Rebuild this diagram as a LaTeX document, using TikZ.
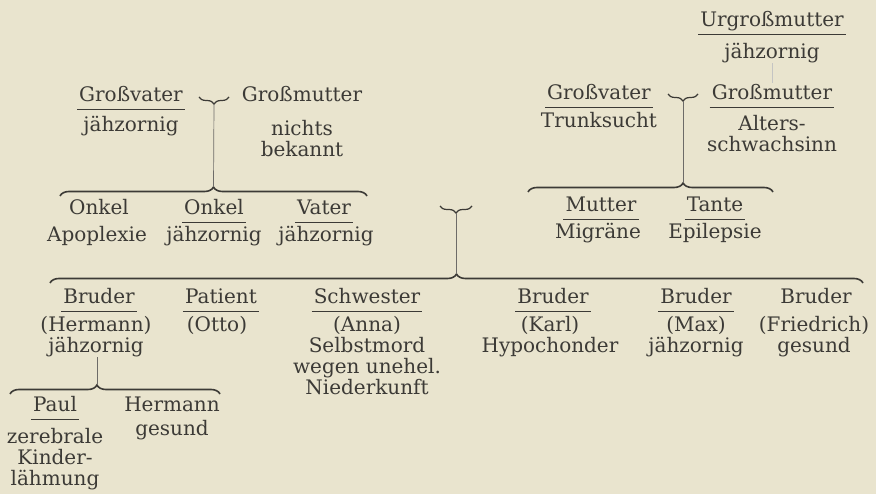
\documentclass[tikz,border=0pt]{standalone}
\usepackage{fontspec}
\setmainfont{DejaVu Serif}
\usetikzlibrary{positioning,decorations.pathreplacing}
\definecolor{paper}{HTML}{E9E4CE}
\definecolor{ink}{HTML}{3C3A36}
\tikzset{
  who/.style={anchor=base, inner sep=0pt, text height=15pt, text depth=5pt, text=ink},
  what/.style={inner sep=0pt, align=center, text=ink},
  rule/.style={draw=ink, line width=0.7pt},
  stem/.style={draw=ink!75, line width=0.7pt},
  bow/.style={draw=ink, line width=1.6pt, decorate,
              decoration={brace, amplitude=9pt}},
  wed/.style={draw=ink, line width=1.2pt, decorate,
              decoration={brace, mirror, amplitude=7pt}}}

\begin{document}
\begin{tikzpicture}[x=1pt, y=-1pt, font=\fontsize{20}{21}\selectfont]
  \fill[paper] (0,0) rectangle (876,494);

  % great-grandmother
  \node[who] (ugm) at (772,27) {Urgroßmutter};
  \node[what, below=11pt of ugm] (ugmD) {jähzornig};

  % father's parents
  \node[who] (gvL) at (131,102) {Großvater};
  \node[what, below=9pt of gvL] (gvLD) {jähzornig};
  \node[who] (gmL) at (302,102) {Großmutter};
  \node[what, below=13pt of gmL] (gmLD) {nichts\\bekannt};

  % mother's parents
  \node[who] (gvR) at (599,100) {Großvater};
  \node[what, below=7pt of gvR] (gvRD) {Trunksucht};
  \node[who] (gmR) at (772,100) {Großmutter};
  \node[what, below=10pt of gmR] (gmRD) {Alters-\\schwachsinn};

  % parents' generation
  \node[who] (onkelA) at (99,215) {Onkel};
  \node[what, below=6pt of onkelA, xshift=-2pt] (onkelAD) {Apoplexie};
  \node[who] (onkelB) at (214,215) {Onkel};
  \node[what, below=6pt of onkelB] (onkelBD) {jähzornig};
  \node[who] (vater) at (324,215) {Vater};
  \node[what, below=6pt of vater, xshift=2pt] (vaterD) {jähzornig};
  \node[who] (mutter) at (601,212) {Mutter};
  \node[what, below=6pt of mutter, xshift=-3pt] (mutterD) {Migräne};
  \node[who] (tante) at (715,212) {Tante};
  \node[what, below=6pt of tante] (tanteD) {Epilepsie};

  % children
  \node[who] (bruderH) at (99,304) {Bruder};
  \node[what, below=7pt of bruderH, xshift=-3pt] (bruderHD) {(Hermann)\\jähzornig};
  \node[who] (patient) at (221,304) {Patient};
  \node[what, below=7pt of patient, xshift=-4pt] (patientD) {(Otto)};
  \node[who] (schwester) at (367,304) {Schwester};
  \node[what, below=7pt of schwester] (schwesterD) {(Anna)\\Selbstmord\\wegen unehel.\\Niederkunft};
  \node[who] (bruderK) at (553,304) {Bruder};
  \node[what, below=7pt of bruderK, xshift=-3pt] (bruderKD) {(Karl)\\Hypochonder};
  \node[who] (bruderM) at (696,304) {Bruder};
  \node[what, below=7pt of bruderM] (bruderMD) {(Max)\\jähzornig};
  \node[who] (bruderF) at (816,304) {Bruder};
  \node[what, below=7pt of bruderF, xshift=-2pt] (bruderFD) {(Friedrich)\\gesund};

  % grandchildren
  \node[who] (paul) at (55,412) {Paul};
  \node[what, below=11pt of paul] (paulD) {zerebrale\\Kinder-\\lähmung};
  \node[who] (hermann) at (172,412) {Hermann};
  \node[what, below=3pt of hermann] (hermannD) {gesund};

  % underlines
  \foreach \n in {ugm,gvL,gvR,gmR,onkelB,vater,mutter,tante,
                  bruderH,patient,schwester,bruderK,bruderM,paul}
    \draw[rule] ([xshift=-2pt,yshift=-2.5pt]\n.south west)
             -- ([xshift=2pt,yshift=-2.5pt]\n.south east);

  % marriages
  \coordinate (wedL1) at (199,97);  \coordinate (wedL2) at (229,97);
  \coordinate (wedR1) at (668,94);  \coordinate (wedR2) at (698,94);
  \coordinate (wedM1) at (440,206); \coordinate (wedM2) at (472,206);
  \draw[wed] (wedL1) -- (wedL2);
  \draw[wed] (wedR1) -- (wedR2);
  \draw[wed] (wedM1) -- (wedM2);
  \coordinate (tipL) at (214,104);
  \coordinate (tipR) at (683,101);
  \coordinate (tipM) at (456,213);

  % sibling braces
  \coordinate (sibL1) at (60,196);  \coordinate (sibL2) at (367,196);
  \coordinate (sibR1) at (528,192); \coordinate (sibR2) at (773,192);
  \coordinate (sibM1) at (50,283);  \coordinate (sibM2) at (863,283);
  \coordinate (sibB1) at (10,394);  \coordinate (sibB2) at (220,394);
  \draw[bow] (sibL1) -- (sibL2);
  \draw[bow, decoration={aspect=0.633}] (sibR1) -- (sibR2);
  \draw[bow] (sibM1) -- (sibM2);
  \draw[bow, decoration={aspect=0.414}] (sibB1) -- (sibB2);
  \coordinate (famL) at (213.5,187);
  \coordinate (famR) at (683,183);
  \coordinate (famM) at (456,274);
  \coordinate (famB) at (97,385);

  % descent lines
  \draw[stem] (tipL) -- (famL);
  \draw[stem] (tipR) -- (famR);
  \draw[stem] (tipM) -- (famM);
  \draw[stem] (famB |- bruderHD.south) -- (famB);
  \draw[stem, draw=ink!30, shorten >=2pt] (ugmD.south) -- (gmR.north);
\end{tikzpicture}
\end{document}
